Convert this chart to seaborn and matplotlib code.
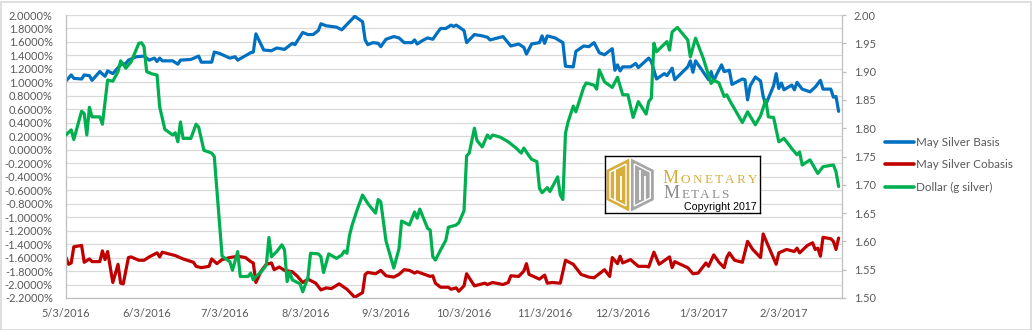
import matplotlib
matplotlib.use("Agg")
import matplotlib.pyplot as plt
import matplotlib.ticker as mticker
from matplotlib.patches import Polygon, Rectangle
from matplotlib.lines import Line2D
import numpy as np
import pandas as pd
import seaborn as sns

sns.set_style("white")
plt.rcParams["font.family"] = ["Lato", "DejaVu Sans"]

START = pd.Timestamp("2016-05-03")

# May silver basis (%), by days since 3 May 2016
basis_day = [0, 2, 3, 6, 7, 9, 10, 13, 15, 16, 18, 21, 23, 24, 27, 30, 32, 34, 35, 36,
             37, 41, 43, 44, 48, 51, 52, 56, 57, 59, 63, 65, 66, 71, 72, 73, 76, 79, 81, 84,
             87, 88, 91, 93, 95, 97, 98, 100, 104, 106, 111, 114, 115, 116, 118, 120, 121, 123, 126, 128,
             130, 133, 134, 135, 137, 139, 141, 143, 144, 146, 148, 149, 150, 153, 154, 157, 160, 162, 163, 164,
             168, 171, 174, 176, 177, 179, 182, 183, 184, 185, 188, 191, 192, 195, 196, 199, 201, 203, 205, 207,
             210, 211, 212, 213, 214, 217, 219, 220, 224, 225, 227, 230, 231, 233, 234, 239, 240, 241, 242, 247,
             248, 249, 250, 252, 253, 255, 256, 260, 261, 262, 263, 265, 267, 268, 269, 272, 273, 274, 275, 276,
             279, 280, 281, 283, 286, 288, 290, 291, 294, 295, 296, 297]
basis_pct = [1.02, 1.11, 1.06, 1.05, 1.11, 1.10, 1.03, 1.16, 1.09, 1.17, 1.13, 1.26, 1.28, 1.33, 1.38, 1.39, 1.33, 1.36, 1.31, 1.36,
             1.32, 1.32, 1.27, 1.33, 1.34, 1.39, 1.30, 1.30, 1.45, 1.43, 1.36, 1.38, 1.33, 1.44, 1.45, 1.72, 1.48, 1.47, 1.51, 1.49,
             1.58, 1.56, 1.74, 1.71, 1.71, 1.77, 1.87, 1.84, 1.82, 1.78, 1.98, 1.90, 1.63, 1.56, 1.59, 1.58, 1.53, 1.64, 1.68, 1.66,
             1.59, 1.59, 1.63, 1.57, 1.62, 1.66, 1.64, 1.75, 1.80, 1.80, 1.85, 1.83, 1.85, 1.77, 1.59, 1.71, 1.69, 1.67, 1.63, 1.64,
             1.68, 1.54, 1.57, 1.52, 1.42, 1.57, 1.59, 1.69, 1.58, 1.69, 1.66, 1.59, 1.24, 1.23, 1.46, 1.54, 1.53, 1.59, 1.44, 1.41,
             1.50, 1.18, 1.26, 1.17, 1.23, 1.23, 1.28, 1.22, 1.36, 1.31, 1.05, 1.13, 1.10, 1.21, 1.04, 1.23, 1.32, 1.15, 1.32, 1.04,
             1.16, 1.02, 1.11, 1.26, 1.16, 1.18, 0.97, 1.05, 1.04, 0.74, 0.95, 1.08, 1.02, 0.79, 0.67, 0.95, 1.13, 0.91, 0.99, 0.89,
             0.96, 0.89, 1.00, 0.90, 0.86, 0.93, 1.03, 0.90, 0.90, 0.78, 0.79, 0.57]

# May silver cobasis (%)
cobasis_day = [0, 1, 2, 3, 6, 7, 9, 10, 13, 14, 15, 16, 18, 20, 21, 22, 24, 25, 28, 30,
               32, 35, 36, 37, 42, 45, 49, 50, 52, 55, 56, 58, 60, 63, 66, 69, 71, 72, 73, 75,
               77, 79, 80, 82, 84, 87, 89, 91, 93, 96, 98, 100, 102, 105, 108, 111, 114, 115, 116, 119,
               121, 123, 126, 128, 130, 132, 134, 135, 140, 141, 142, 144, 147, 148, 150, 151, 153, 154, 157, 161,
               162, 164, 168, 170, 171, 174, 176, 177, 178, 182, 184, 185, 187, 190, 192, 195, 198, 201, 203, 207,
               209, 210, 212, 213, 214, 217, 220, 223, 224, 226, 228, 232, 233, 234, 239, 241, 243, 246, 247, 249,
               251, 253, 254, 255, 257, 260, 262, 264, 267, 268, 270, 273, 274, 277, 280, 281, 282, 285, 287, 288,
               289, 290, 291, 294, 295, 296, 297]
cobasis_pct = [-1.60, -1.70, -1.68, -1.44, -1.42, -1.67, -1.62, -1.66, -1.66, -1.50, -1.63, -1.51, -1.97, -1.70, -1.98, -1.99, -1.60, -1.59, -1.64, -1.64,
               -1.59, -1.53, -1.59, -1.52, -1.57, -1.62, -1.67, -1.73, -1.75, -1.73, -1.62, -1.69, -1.63, -1.60, -1.58, -1.60, -1.66, -1.68, -1.97, -1.80,
               -1.70, -1.68, -1.78, -1.74, -1.79, -1.81, -1.88, -1.97, -1.92, -1.98, -2.08, -2.05, -2.06, -1.99, -2.07, -2.19, -2.12, -1.85, -1.82, -1.84,
               -1.79, -1.87, -1.89, -1.85, -1.78, -1.79, -1.83, -1.81, -1.88, -1.87, -1.98, -2.04, -2.04, -2.07, -2.05, -2.10, -2.02, -1.84, -2.02, -1.98,
               -2.00, -1.97, -2.00, -1.97, -1.87, -1.88, -1.80, -1.69, -1.85, -1.92, -1.86, -1.98, -1.97, -1.98, -1.64, -1.70, -1.85, -1.89, -1.90, -1.78,
               -1.88, -1.60, -1.69, -1.58, -1.68, -1.63, -1.73, -1.73, -1.74, -1.52, -1.70, -1.59, -1.75, -1.66, -1.75, -1.84, -1.83, -1.68, -1.73, -1.56,
               -1.67, -1.75, -1.60, -1.53, -1.64, -1.67, -1.36, -1.48, -1.60, -1.25, -1.43, -1.70, -1.53, -1.48, -1.51, -1.46, -1.53, -1.42, -1.38, -1.48,
               -1.46, -1.58, -1.30, -1.32, -1.36, -1.48, -1.31]

# Dollar priced in grams of silver (right axis)
dollar_day = [0, 2, 3, 6, 7, 8, 9, 10, 13, 14, 16, 18, 20, 21, 22, 23, 25, 28, 29, 30,
              31, 33, 35, 36, 38, 41, 42, 43, 44, 45, 48, 50, 51, 53, 56, 57, 60, 63, 64, 66,
              67, 70, 71, 72, 73, 75, 77, 78, 79, 81, 83, 84, 85, 86, 87, 90, 91, 93, 94, 97,
              98, 99, 101, 104, 106, 107, 108, 109, 110, 112, 114, 116, 119, 120, 121, 123, 126, 128, 129, 132,
              134, 135, 136, 139, 140, 141, 142, 144, 146, 147, 150, 151, 153, 154, 155, 157, 158, 160, 162, 163,
              164, 167, 170, 173, 175, 176, 178, 179, 181, 182, 183, 185, 186, 189, 190, 191, 192, 193, 195, 196,
              199, 200, 203, 204, 205, 207, 210, 212, 214, 216, 218, 220, 223, 224, 225, 226, 227, 229, 231, 232,
              233, 235, 239, 240, 242, 245, 248, 249, 251, 253, 254, 255, 260, 262, 265, 267, 269, 270, 272, 274,
              276, 278, 279, 281, 282, 283, 286, 289, 291, 295, 296, 297]
dollar_g = [1.788, 1.797, 1.780, 1.830, 1.826, 1.788, 1.837, 1.820, 1.820, 1.807, 1.885, 1.883, 1.900, 1.919, 1.913, 1.906, 1.917, 1.950, 1.951, 1.944,
            1.900, 1.896, 1.894, 1.838, 1.798, 1.788, 1.792, 1.776, 1.811, 1.782, 1.782, 1.807, 1.802, 1.761, 1.756, 1.750, 1.574, 1.564, 1.549, 1.582,
            1.538, 1.538, 1.544, 1.532, 1.538, 1.546, 1.558, 1.607, 1.573, 1.582, 1.594, 1.585, 1.529, 1.546, 1.532, 1.525, 1.511, 1.536, 1.579, 1.578,
            1.573, 1.545, 1.578, 1.570, 1.576, 1.583, 1.579, 1.611, 1.629, 1.657, 1.682, 1.667, 1.650, 1.674, 1.670, 1.601, 1.553, 1.587, 1.636, 1.629,
            1.652, 1.641, 1.657, 1.623, 1.620, 1.573, 1.567, 1.585, 1.602, 1.625, 1.629, 1.633, 1.654, 1.751, 1.756, 1.800, 1.778, 1.767, 1.788, 1.782,
            1.788, 1.784, 1.776, 1.765, 1.756, 1.765, 1.751, 1.745, 1.741, 1.694, 1.686, 1.695, 1.688, 1.714, 1.682, 1.674, 1.791, 1.811, 1.839, 1.829,
            1.872, 1.880, 1.876, 1.869, 1.903, 1.882, 1.872, 1.890, 1.859, 1.859, 1.819, 1.847, 1.825, 1.847, 1.853, 1.950, 1.935, 1.944, 1.953, 1.938,
            1.970, 1.978, 1.956, 1.926, 1.959, 1.923, 1.879, 1.885, 1.880, 1.856, 1.859, 1.850, 1.810, 1.829, 1.806, 1.822, 1.850, 1.820, 1.819, 1.776,
            1.782, 1.770, 1.764, 1.753, 1.758, 1.735, 1.744, 1.720, 1.732, 1.735, 1.723, 1.697]

series_names = ["May Silver Basis", "May Silver Cobasis", "Dollar (g silver)"]
tick_dates = ["2016-05-03", "2016-06-03", "2016-07-03", "2016-08-03", "2016-09-03",
              "2016-10-03", "2016-11-03", "2016-12-03", "2017-01-03", "2017-02-03"]
tick_labels = ["5/3/2016", "6/3/2016", "7/3/2016", "8/3/2016", "9/3/2016",
               "10/3/2016", "11/3/2016", "12/3/2016", "1/3/2017", "2/3/2017"]

BLUE, RED, GREEN = "#0070C0", "#C00000", "#00B050"
TXT, SPINE, GRID = "#595959", "#BFBFBF", "#D9D9D9"
GOLD, LOGO_GRAY = "#D6AE3E", "#A6A6A6"


def frame(days, values):
    return pd.DataFrame({"date": START + pd.to_timedelta(np.asarray(days, float), unit="D"),
                         "value": values})


basis = frame(basis_day, basis_pct)
cobasis = frame(cobasis_day, cobasis_pct)
dollar = frame(dollar_day, dollar_g)

W, H = 1032, 330
fig = plt.figure(figsize=(W / 100, H / 100), dpi=100)
fig.patch.set_facecolor("white")
L, R, T, B = 66, 842, 15, 298
ax = fig.add_axes([L / W, 1 - B / H, (R - L) / W, (B - T) / H])
ax2 = ax.twinx()

LW = 2.3
sns.lineplot(data=basis, x="date", y="value", ax=ax, color=BLUE, linewidth=LW, legend=False)
sns.lineplot(data=cobasis, x="date", y="value", ax=ax, color=RED, linewidth=LW, legend=False)
sns.lineplot(data=dollar, x="date", y="value", ax=ax2, color=GREEN, linewidth=LW, legend=False)

# left axis: percent
ax.set_ylim(-2.2, 2.0)
ax.set_yticks(np.round(np.arange(-2.2, 2.001, 0.2), 1))
ax.yaxis.set_major_formatter(mticker.FuncFormatter(
    lambda v, _: f"{(0.0 if abs(v) < 1e-9 else v):.4f}%"))
ax.grid(axis="y", color=GRID, linewidth=0.9)
ax.grid(axis="x", visible=False)
ax.set_axisbelow(True)

# right axis: grams
ax2.set_ylim(1.5, 2.0)
ax2.set_yticks(np.round(np.arange(1.5, 2.001, 0.05), 2))
ax2.yaxis.set_major_formatter(mticker.FuncFormatter(lambda v, _: f"{v:.2f}"))
ax2.grid(False)

ax.set_xlim(START, START + pd.Timedelta(days=298.3))
ax.set_xticks(pd.to_datetime(tick_dates))
ax.set_xticklabels(tick_labels)

for a in (ax, ax2):
    a.set_xlabel("")
    a.set_ylabel("")
    for s in a.spines.values():
        s.set_color(SPINE)
        s.set_linewidth(0.9)
    a.spines["top"].set_visible(False)
ax.spines["right"].set_visible(False)
ax2.spines["left"].set_visible(False)
ax2.spines["bottom"].set_visible(False)

FS = 7.9
ax.tick_params(axis="x", length=3.5, width=0.9, color=SPINE, labelcolor=TXT, labelsize=FS, pad=3.5)
ax.tick_params(axis="y", length=0, labelcolor=TXT, labelsize=FS, pad=9.5)
ax2.tick_params(axis="y", length=3, width=0.9, color=SPINE, labelcolor=TXT, labelsize=FS, pad=5.5)

# legend to the right of the plot
handles = [Line2D([], [], color=c, linewidth=2.6) for c in (BLUE, RED, GREEN)]
fig.legend(handles, series_names, loc="center left", bbox_to_anchor=(885 / W, 1 - 165 / H),
           frameon=False, fontsize=8.4, handlelength=2.5, handletextpad=0.15,
           labelspacing=1.0, labelcolor=TXT, borderaxespad=0, borderpad=0)

# logo box
lx0, ly0, lbw, lbh = 605, 156, 155, 57
lax = fig.add_axes([lx0 / W, 1 - (ly0 + lbh) / H, lbw / W, lbh / H])
lax.set_xlim(0, lbw)
lax.set_ylim(lbh, 0)
lax.set_xticks([])
lax.set_yticks([])
lax.set_facecolor("white")
for s in lax.spines.values():
    s.set_color("black")
    s.set_linewidth(1.0)

left_half = Polygon([(1.5, 14), (24.3, 2.5), (24.3, 55.5), (1.5, 44)], closed=True,
                    facecolor=GOLD, edgecolor="none")
right_half = Polygon([(26.0, 2.5), (48.8, 14), (48.8, 44), (26.0, 55.5)], closed=True,
                     facecolor=LOGO_GRAY, edgecolor="none")
lax.add_patch(left_half)
lax.add_patch(right_half)
# white inner outline and the letter strokes of the emblem
lax.add_patch(Polygon([(5.0, 16), (21.0, 8.0), (21.0, 50.0), (5.0, 42)], closed=True,
                      fill=False, edgecolor="white", linewidth=1.0))
lax.add_patch(Polygon([(29.3, 8.0), (45.3, 16), (45.3, 42), (29.3, 50.0)], closed=True,
                      fill=False, edgecolor="white", linewidth=1.0))
for xv, y_top in ((10.3, 14), (15.7, 20), (34.6, 14), (40.0, 20)):
    lax.plot([xv, xv], [y_top, 44], color="white", linewidth=1.3, solid_capstyle="butt")

renderer = fig.canvas.get_renderer()


def spread_word(x0, x1, y, pieces, color, family):
    texts = []
    for chars, size in pieces:
        for ch in chars:
            texts.append(lax.text(0, y, ch, fontsize=size, family=family, color=color,
                                  va="baseline", ha="left"))
    widths = [t.get_window_extent(renderer).width for t in texts]
    gap = (x1 - x0 - sum(widths)) / (len(texts) - 1)
    x = x0
    for t, w in zip(texts, widths):
        t.set_x(x)
        x += w + gap


spread_word(57.5, 152.5, 27.3, [("M", 13.0), ("ONETARY", 9.5)], GOLD, "Liberation Serif")
spread_word(59.0, 123.0, 42.3, [("M", 13.0), ("ETALS", 9.5)], "#8C8C8C", "Liberation Serif")
lax.text(78.5, 54.0, "Copyright 2017", fontsize=7.7, family="Liberation Sans", color="black",
         va="baseline", ha="left")

# thin outer border of the chart area
fig.patches.append(Rectangle((0.5 / W, 0.5 / H), 1 - 2 / W, 1 - 2 / H, transform=fig.transFigure,
                             fill=False, edgecolor=GRID, linewidth=1.2))

fig.savefig("out.png", dpi=100, facecolor="white")
